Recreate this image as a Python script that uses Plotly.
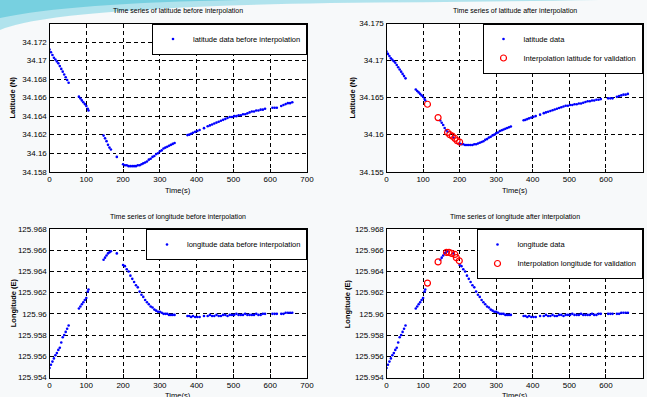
import plotly.graph_objects as go

# ---------------- data ----------------
time_s = [0, 4, 8, 12, 16, 20, 24, 28, 32, 36, 40, 44, 48, 52,
          80, 84, 88, 92, 96, 100, 104, 106,
          147, 151, 155, 159, 163, 167, 183,
          200, 205, 210, 215, 220, 225, 230, 235, 240, 245, 250, 255, 260, 265, 270,
          275, 280, 285, 290, 295, 300, 305, 310, 315, 320, 325, 330, 335, 340,
          375, 380, 385, 390, 396, 402, 408, 420, 430, 436, 442, 448, 454, 460, 466,
          472, 478, 484, 490, 496, 502, 508, 514, 520, 526, 532, 538, 544, 550, 556,
          562, 568, 574, 580, 586, 606, 612, 618, 630, 636, 642, 648, 654, 660]

latitude = [34.1712, 34.1709, 34.1706, 34.1703, 34.1701, 34.1699, 34.1697, 34.1694, 34.1691,
            34.1688, 34.1685, 34.1682, 34.1679, 34.1676,
            34.1661, 34.1659, 34.1657, 34.1655, 34.1653, 34.1651, 34.1648, 34.1646,
            34.1619, 34.1616, 34.1613, 34.1609, 34.1606, 34.1604, 34.1596,
            34.1588, 34.1587, 34.1587, 34.1586, 34.1586, 34.1586, 34.1586, 34.1586, 34.1587,
            34.1587, 34.1588, 34.1589, 34.1590, 34.1591, 34.1593, 34.1594, 34.1596, 34.1597,
            34.1599, 34.1600, 34.1602, 34.1603, 34.1605, 34.1606, 34.1607, 34.1608, 34.1609,
            34.1610, 34.1611,
            34.16195, 34.1620, 34.1621, 34.1622, 34.1623, 34.1624, 34.1625, 34.1627, 34.1629,
            34.1630, 34.1631, 34.1632, 34.1633, 34.1634, 34.1635, 34.1636, 34.1637, 34.1638,
            34.1639, 34.1639, 34.1640, 34.1640, 34.1641, 34.1641, 34.1642, 34.1642, 34.1643,
            34.1644, 34.1645, 34.1645, 34.1646, 34.1646, 34.1647, 34.1647, 34.1648, 34.1649,
            34.1649, 34.1649, 34.1651, 34.1652, 34.1653, 34.1654, 34.1654, 34.1655]

longitude = [125.9549, 125.9552, 125.9555, 125.9558, 125.9561, 125.9563, 125.9566, 125.9568,
             125.9573, 125.9578, 125.9580, 125.9583, 125.9586, 125.9589,
             125.9605, 125.9607, 125.9609, 125.9611, 125.9613, 125.9615, 125.9621, 125.9623,
             125.9651, 125.9653, 125.9655, 125.9657, 125.9658, 125.9659, 125.9657,
             125.9646, 125.9645, 125.9642, 125.9640, 125.9636, 125.9633, 125.9630, 125.9627,
             125.9625, 125.9621, 125.9618, 125.9616, 125.9613, 125.9611, 125.9609, 125.9607,
             125.9606, 125.9604, 125.9603, 125.9602, 125.9602, 125.9601, 125.9600, 125.9600,
             125.9600, 125.9599, 125.9599, 125.9599, 125.9599,
             125.9598, 125.9598, 125.9597, 125.9598, 125.9597, 125.9597, 125.9597, 125.9598,
             125.9598, 125.9599, 125.9598, 125.9598, 125.9599, 125.9598, 125.9598, 125.9599,
             125.9599, 125.9598, 125.9599, 125.9599, 125.9599, 125.9600, 125.9599, 125.9599,
             125.9599, 125.9600, 125.9599, 125.9599, 125.9599, 125.9599, 125.9600, 125.9599,
             125.9599, 125.9600, 125.9600, 125.9600, 125.9600, 125.9600, 125.9600, 125.9600,
             125.9601, 125.9601, 125.9601, 125.9601]

val_lat_t = [112, 141, 167, 173, 180, 187, 193, 200]
val_lat = [34.1641, 34.1623, 34.1603, 34.1600, 34.1598, 34.1595, 34.1592, 34.1590]

val_lon_t = [112, 141, 164, 171, 178, 187, 191, 199]
val_lon = [125.9629, 125.9649, 125.9658, 125.9658, 125.9657, 125.9656, 125.9653, 125.9650]

titles = ["Time series of latitude before interpolation",
          "Time series of latitude after interpolation",
          "Time series of longitude before interpolation",
          "Time series of longitude after interpolation"]

x_ticks = [0, 100, 200, 300, 400, 500, 600, 700]
lat_ticks_a = [34.158, 34.16, 34.162, 34.164, 34.166, 34.168, 34.17, 34.172]
lat_ticks_b = [34.155, 34.16, 34.165, 34.17, 34.175]
lon_ticks = [125.954, 125.956, 125.958, 125.96, 125.962, 125.964, 125.966, 125.968]

# ---------------- figure ----------------
W, H = 647, 397
FONT = "Liberation Sans Narrow, Liberation Sans, Arial, sans-serif"

def px_x(p):
    return p / W

def px_y(p):
    return 1 - p / H

xdom_l = [px_x(49.5), px_x(307)]
xdom_r = [px_x(386.5), px_x(642.5)]
ydom_t = [px_y(171.7), px_y(23.5)]
ydom_b = [px_y(377.5), px_y(229)]

fig = go.Figure()

blue = dict(color="#0000ff", size=2.6, symbol="circle")
red = dict(color="#ff0000", size=6, symbol="circle-open", line=dict(color="#ff0000", width=1.2))

fig.add_trace(go.Scatter(x=time_s, y=latitude, mode="markers", marker=blue,
                         name="latitude data before interpolation",
                         xaxis="x", yaxis="y", legend="legend"))
fig.add_trace(go.Scatter(x=time_s, y=latitude, mode="markers", marker=blue,
                         name="latitude data", xaxis="x2", yaxis="y2", legend="legend2"))
fig.add_trace(go.Scatter(x=val_lat_t, y=val_lat, mode="markers", marker=red,
                         name="Interpolation latitude for validation",
                         xaxis="x2", yaxis="y2", legend="legend2"))
fig.add_trace(go.Scatter(x=time_s, y=longitude, mode="markers", marker=blue,
                         name="longitude data before interpolation",
                         xaxis="x3", yaxis="y3", legend="legend3"))
fig.add_trace(go.Scatter(x=time_s, y=longitude, mode="markers", marker=blue,
                         name="longitude data", xaxis="x4", yaxis="y4", legend="legend4"))
fig.add_trace(go.Scatter(x=val_lon_t, y=val_lon, mode="markers", marker=red,
                         name="Interpolation longitude for validation",
                         xaxis="x4", yaxis="y4", legend="legend4"))

axis_common = dict(showline=True, linecolor="black", linewidth=1.2, mirror=True,
                   showgrid=True, gridcolor="black", gridwidth=1.2, griddash="4px,3px",
                   zeroline=False, ticks="inside", ticklen=3, tickcolor="black",
                   automargin=False,
                   tickfont=dict(size=8, family=FONT, color="black"))

def xaxis(dom, anchor):
    return dict(domain=dom, anchor=anchor, range=[0, 700], tickvals=x_ticks,
                ticktext=[str(v) for v in x_ticks], **axis_common)

def yaxis(dom, anchor, rng, ticks):
    return dict(domain=dom, anchor=anchor, range=rng, tickvals=ticks,
                ticktext=[f"{v:g}" for v in ticks], **axis_common)

legend_common = dict(bgcolor="white", bordercolor="black", borderwidth=1,
                     font=dict(size=7.5, family=FONT, color="black"),
                     xanchor="right", yanchor="top", itemwidth=30,
                     tracegroupgap=0, itemsizing="trace")

fig.update_layout(
    width=W, height=H,
    margin=dict(l=0, r=0, t=0, b=0, autoexpand=False),
    paper_bgcolor="#f7f9fa", plot_bgcolor="white",
    showlegend=True,
    xaxis=xaxis(xdom_l, "y"),
    yaxis=yaxis(ydom_t, "x", [34.158, 34.174], lat_ticks_a),
    xaxis2=xaxis(xdom_r, "y2"),
    yaxis2=yaxis(ydom_t, "x2", [34.155, 34.175], lat_ticks_b),
    xaxis3=xaxis(xdom_l, "y3"),
    yaxis3=yaxis(ydom_b, "x3", [125.954, 125.968], lon_ticks),
    xaxis4=xaxis(xdom_r, "y4"),
    yaxis4=yaxis(ydom_b, "x4", [125.954, 125.968], lon_ticks),
    legend=dict(x=xdom_l[1], y=ydom_t[1], **legend_common),
    legend2=dict(x=xdom_r[1], y=ydom_t[1], **legend_common),
    legend3=dict(x=xdom_l[1], y=ydom_b[1], **legend_common),
    legend4=dict(x=xdom_r[1], y=ydom_b[1], **legend_common),
)

# decorative swoosh at the top (slide background)
fig.add_shape(type="path", xref="paper", yref="paper", layer="below",
              path=f"M 0 1 L 0 {px_y(30)} Q {px_x(50)} {px_y(8)} {px_x(330)} {px_y(3)} "
                   f"Q {px_x(480)} {px_y(2)} {px_x(600)} {px_y(0)} Z",
              fillcolor="rgba(120,210,225,0.55)", line=dict(width=0))
fig.add_shape(type="path", xref="paper", yref="paper", layer="below",
              path=f"M 0 1 L 0 {px_y(18)} Q {px_x(70)} {px_y(3)} {px_x(240)} {px_y(0)} Z",
              fillcolor="rgba(80,195,215,0.6)", line=dict(width=0))

# titles and axis labels
centers_x = [(xdom_l[0] + xdom_l[1]) / 2, (xdom_r[0] + xdom_r[1]) / 2]
title_y = [px_y(11), px_y(217)]
xlabel_y = [px_y(190), px_y(395)]
k = 0
for r in range(2):
    for c in range(2):
        fig.add_annotation(text=titles[k], x=centers_x[c], y=title_y[r], xref="paper",
                           yref="paper", showarrow=False, xanchor="center", yanchor="middle",
                           font=dict(size=7, family=FONT, color="black"))
        fig.add_annotation(text="Time(s)", x=centers_x[c], y=xlabel_y[r], xref="paper",
                           yref="paper", showarrow=False, xanchor="center", yanchor="middle",
                           font=dict(size=7.5, family=FONT, color="black"))
        k += 1

ylabels = ["Latitude (N)", "Latitude (N)", "Longitude (E)", "Longitude (E)"]
ylab_x = [px_x(13), px_x(353), px_x(13), px_x(347)]
ylab_y = [(ydom_t[0] + ydom_t[1]) / 2] * 2 + [(ydom_b[0] + ydom_b[1]) / 2] * 2
for i in range(4):
    fig.add_annotation(text=f"<b>{ylabels[i]}</b>", x=ylab_x[i], y=ylab_y[i], xref="paper",
                       yref="paper", showarrow=False, textangle=-90,
                       xanchor="center", yanchor="middle",
                       font=dict(size=7.5, family=FONT, color="black"))

fig.write_html("out.html", config={"displayModeBar": False},
               post_script="document.body.style.margin='0';"
                           "document.body.style.overflow='hidden';")
